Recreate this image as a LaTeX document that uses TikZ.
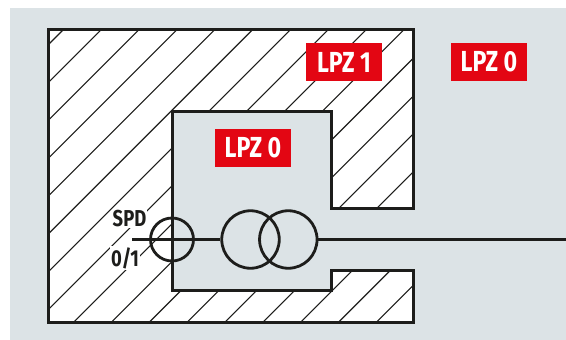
\documentclass[tikz,border=0pt]{standalone}
\usepackage{fontspec}
\setmainfont[FakeStretch=0.8]{Fira Sans}
\usetikzlibrary{positioning}
\definecolor{zonegray}{RGB}{220,227,230}
\definecolor{lpzred}{RGB}{227,6,19}
\definecolor{inkblack}{RGB}{29,29,27}
\begin{document}
\begin{tikzpicture}[
  x=1pt, y=-1pt,
  wall/.style={draw=inkblack, line width=3pt, fill=white, line join=miter},
  hatch/.style={draw=inkblack, line width=1.1pt},
  wire/.style={draw=inkblack, line width=2.8pt},
  lpzbox/.style={rectangle, fill=lpzred, text=white, minimum width=76pt, minimum height=38pt, inner sep=0pt, font=\fontsize{29}{29}\selectfont\bfseries},
  spdlabel/.style={fill=white, inner sep=1pt, text=inkblack, font=\fontsize{23}{23}\selectfont\bfseries},
  coil/.style={circle, draw=inkblack, line width=2.8pt, inner sep=0pt}
]
  \useasboundingbox (0,0) rectangle (566,340);
  \fill[zonegray] (10,8) rectangle (566,340);

  % building with the notch for the cable
  \draw[wall] (48,29) -- (413,29) -- (413,208) -- (331,208) -- (331,111) -- (172,111) -- (172,290) -- (331,290) -- (331,270) -- (413,270) -- (413,322) -- (48,322) -- cycle;
  \begin{scope}
    \clip (48,29) -- (413,29) -- (413,208) -- (331,208) -- (331,111) -- (172,111) -- (172,290) -- (331,290) -- (331,270) -- (413,270) -- (413,322) -- (48,322) -- cycle;
    \foreach \i in {0,...,16} {
      \pgfmathsetmacro{\c}{93+37.85*\i}
      \draw[hatch] (0,\c) -- (\c,0);
    }
  \end{scope}
  \draw[wall, fill=none] (48,29) -- (413,29) -- (413,208) -- (331,208) -- (331,111) -- (172,111) -- (172,290) -- (331,290) -- (331,270) -- (413,270) -- (413,322) -- (48,322) -- cycle;

  \node[lpzbox] (lpzouter) at (489,62) {LPZ 0};
  \node[lpzbox] (lpzwall) at (344,62) {LPZ 1};
  \node[lpzbox] (lpzinner) at (253,148) {LPZ 0};

  \node[spdlabel] (spdtext) at (129.5,219) {SPD};
  \node[spdlabel] (ratio) at (125,258) {0/1};

  \node[coil, minimum size=43pt] (spd) at (172,239.5) {};
  \node[coil, minimum size=57.5pt] (primary) at (250.5,239.5) {};
  \node[coil, minimum size=57.5pt] (secondary) at (288.3,239.5) {};
  \coordinate (cablestart) at (132,239.5);
  \coordinate (cableend) at (566,239.5);

  \draw[wire] (cablestart) -- (primary);
  \draw[wire] (secondary) -- (cableend);
\end{tikzpicture}
\end{document}
